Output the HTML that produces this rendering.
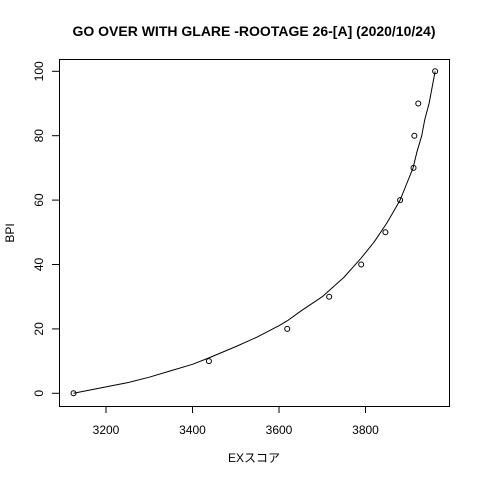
<!DOCTYPE html>
<html><head><meta charset="utf-8"><style>
body{margin:0;background:#fff;}
svg text{font-family:"Liberation Sans","Noto Sans CJK JP",sans-serif;fill:#000;}
</style></head><body>
<svg width="480" height="480" xmlns="http://www.w3.org/2000/svg">
<rect width="480" height="480" fill="#fff"/>
<text x="254" y="36" text-anchor="middle" font-size="14" font-weight="bold">GO OVER WITH GLARE -ROOTAGE 26-[A] (2020/10/24)</text>
<rect x="59.5" y="59.5" width="390" height="347" fill="none" stroke="#000"/>
<g id="xt"></g><g id="yt"></g>
<text x="254" y="462" text-anchor="middle" font-size="12">EXスコア</text>
<text transform="translate(14,233) rotate(-90)" text-anchor="middle" font-size="12">BPI</text>
<path id="curve" fill="none" stroke="#000" stroke-width="1" stroke-linejoin="round"/>
<g id="pts"></g>
</svg>
<script>
const xTicks=[3200,3400,3600,3800];
const yTicks=[0,20,40,60,80,100];
const exScore=[3125,3438,3619,3716,3790,3846,3880,3911,3913,3922,3961];
const bpi=[0,10,20,30,40,50,60,70,80,90,100];
const curveX=[3125,3200,3250,3300,3350,3400,3438,3500,3550,3600,3619,3650,3700,3750,3790,3820,3850,3880,3895,3910,3919,3930,3937,3947,3954,3961];
const curveY=[0,2,3.3,5,7,9,11,14.5,17.5,21,22.5,25.5,30,36,42,47,53,60,65,70,75,80,85,90,95,100];
const sx=v=>106+(v-3200)*86.5/200;
const sy=v=>393.3-v*3.22;
const NS="http://www.w3.org/2000/svg";
const xt=document.getElementById('xt'),yt=document.getElementById('yt');
xTicks.forEach(t=>{
  const l=document.createElementNS(NS,'line');
  l.setAttribute('x1',sx(t));l.setAttribute('x2',sx(t));l.setAttribute('y1',406);l.setAttribute('y2',413);l.setAttribute('stroke','#000');
  
  
  xt.appendChild(l);
  const tx=document.createElementNS(NS,'text');
  tx.setAttribute('x',sx(t));tx.setAttribute('y',434);tx.setAttribute('text-anchor','middle');tx.setAttribute('font-size','12');tx.textContent=t;
  
  
  xt.appendChild(tx);
});
const bl=document.createElementNS(NS,'line');
bl.setAttribute('x1',sx(3200));bl.setAttribute('x2',sx(3800));bl.setAttribute('y1',406.5);bl.setAttribute('y2',406.5);bl.setAttribute('stroke','#000');
xt.appendChild(bl);
yTicks.forEach(t=>{
  const l=document.createElementNS(NS,'line');
  l.setAttribute('x1',52);l.setAttribute('x2',59);l.setAttribute('y1',sy(t));l.setAttribute('y2',sy(t));l.setAttribute('stroke','#000');
  
  
  yt.appendChild(l);
  const tx=document.createElementNS(NS,'text');
  tx.setAttribute('transform','translate(43,'+sy(t)+') rotate(-90)');tx.setAttribute('text-anchor','middle');tx.setAttribute('font-size','12');tx.textContent=t;
  
  
  yt.appendChild(tx);
});
document.getElementById('curve').setAttribute('d',curveX.map((x,i)=>(i?'L':'M')+sx(x)+' '+sy(curveY[i])).join(' '));
const pts=document.getElementById('pts');
exScore.forEach((x,i)=>{
  const c=document.createElementNS(NS,'circle');
  c.setAttribute('cx',sx(x));c.setAttribute('cy',sy(bpi[i]));c.setAttribute('r',2.5);c.setAttribute('fill','none');c.setAttribute('stroke','#000');
  
  
  pts.appendChild(c);
});
</script>
</body></html>
